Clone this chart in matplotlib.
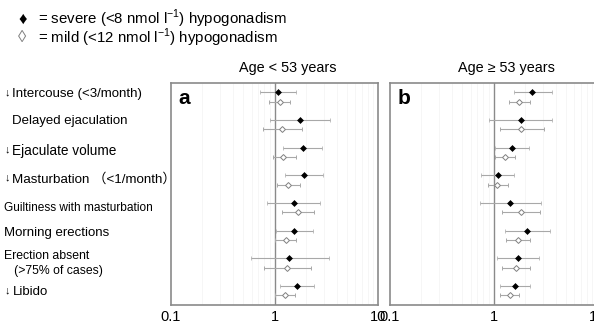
import numpy as np
import matplotlib
matplotlib.use('Agg')
import matplotlib.pyplot as plt

plt.rcParams['font.family'] = ['Liberation Sans', 'Noto Sans CJK JP', 'DejaVu Sans']
plt.rcParams['mathtext.fontset'] = 'custom'
plt.rcParams['mathtext.rm'] = 'Liberation Sans'

# Категорії (рядки); arrow = чи є стрілка "↓" перед назвою
labels = ['Intercouse (<3/month)', 'Delayed ejaculation', 'Ejaculate volume',
          'Masturbation \uff08<1/month\uff09', 'Guiltiness with masturbation',
          'Morning erections', 'Erection absent\n   (>75% of cases)', 'Libido']
arrow = [True, False, True, True, False, False, False, True]

# Вік < 53: тяжкий (<8 nmol/l) і легкий (<12 nmol/l)
a_sev = [1.07, 1.75, 1.87, 1.91, 1.53, 1.55, 1.39, 1.64]
a_sev_lo = [0.72, 0.90, 1.22, 1.25, 0.85, 1.03, 0.59, 1.12]
a_sev_hi = [1.62, 3.46, 2.87, 2.91, 2.77, 2.35, 3.36, 2.42]
a_mild = [1.12, 1.19, 1.22, 1.36, 1.67, 1.28, 1.33, 1.26]
a_mild_lo = [0.89, 0.77, 0.96, 1.06, 1.17, 1.02, 0.79, 1.01]
a_mild_hi = [1.40, 1.85, 1.61, 1.77, 2.42, 1.61, 2.25, 1.58]

# Вік >= 53
b_sev = [2.38, 1.83, 1.52, 1.10, 1.45, 2.10, 1.72, 1.60]
b_sev_lo = [1.58, 0.91, 1.04, 0.76, 0.74, 1.28, 1.09, 1.16]
b_sev_hi = [3.64, 3.67, 2.21, 1.58, 2.89, 3.48, 2.75, 2.26]
b_mild = [1.76, 1.84, 1.29, 1.09, 1.84, 1.72, 1.64, 1.43]
b_mild_lo = [1.42, 1.15, 1.03, 0.89, 1.22, 1.32, 1.22, 1.16]
b_mild_hi = [2.23, 3.07, 1.63, 1.37, 2.81, 2.23, 2.26, 1.75]

# Розміщення підписів (пікселі / зсув по рядку)
label_x = [12.5, 12.5, 12.5, 12.5, 4, 4, 4, 12.5]
label_dy = [-0.1, -0.12, -0.05, -0.03, 0.0, -0.07, 0.02, 0.04]
label_size = [9.5, 9.5, 9.8, 9.6, 8.6, 9.5, 8.8, 9.5]

W, H = 594, 325
fig = plt.figure(figsize=(W / 100, H / 100), dpi=100)

rows = np.arange(1, len(labels) + 1)
off = 0.17
frame_col = '#8a8a8a'
bar_col = '#a8a8a8'


def panel(left, letter, title, sev, sev_lo, sev_hi, mild, mild_lo, mild_hi):
    ax = fig.add_axes([left / W, 1 - 304.5 / H, 207 / W, 221.5 / H])
    ax.set_xscale('log')
    ax.set_xlim(0.1, 10)
    ax.set_ylim(8.5, 0.5)
    ax.grid(which='minor', axis='x', color='#f5f5f5', lw=0.6)
    ax.axvline(1, color='#8a8a8a', lw=1.0, zorder=1)
    sev = np.array(sev)
    mild = np.array(mild)
    ax.errorbar(sev, rows - off, xerr=[sev - np.array(sev_lo), np.array(sev_hi) - sev],
                fmt='D', ms=3.0, mfc='black', mec='black', mew=0.5, ecolor=bar_col,
                elinewidth=0.8, capsize=1.4, capthick=0.6, zorder=3)
    ax.errorbar(mild, rows + off, xerr=[mild - np.array(mild_lo), np.array(mild_hi) - mild],
                fmt='D', ms=3.0, mfc='white', mec='#808080', mew=0.7, ecolor=bar_col,
                elinewidth=0.8, capsize=1.4, capthick=0.6, zorder=3)
    ax.set_xticks([0.1, 1, 10])
    ax.set_xticklabels(['0.1', '1', '10'])
    ax.xaxis.set_minor_formatter(plt.NullFormatter())
    ax.tick_params(axis='x', which='both', length=0, labelsize=10.5, pad=4, colors='black')
    ax.set_yticks([])
    for s in ax.spines.values():
        s.set_color(frame_col)
        s.set_linewidth(1.2)
    ax.text(0.035, 0.975, letter, transform=ax.transAxes, fontsize=15,
            fontweight='bold', va='top', ha='left')
    ax.text(0.563, 1.068, title, transform=ax.transAxes, fontsize=10.4,
            ha='center', va='center')
    return ax


ax1 = panel(171, 'a', 'Age < 53 years', a_sev, a_sev_lo, a_sev_hi, a_mild, a_mild_lo, a_mild_hi)
ax2 = panel(390, 'b', 'Age \u2265 53 years', b_sev, b_sev_lo, b_sev_hi, b_mild, b_mild_lo, b_mild_hi)

# Підписи рядків
trans = matplotlib.transforms.blended_transform_factory(fig.transFigure, ax1.transData)
for i, lab in enumerate(labels):
    y = rows[i] + label_dy[i]
    ax1.text(label_x[i] / W, y, lab, transform=trans, fontsize=label_size[i],
             ha='left', va='center', linespacing=1.3, clip_on=False)
    if arrow[i]:
        ax1.text(5 / W, y - 0.04, '\u2193', transform=trans, fontsize=7.8,
                 ha='left', va='center', clip_on=False)

# Легенда
fig.text(18 / W, 1 - 19 / H, '\u2666', fontsize=12, va='center', ha='left')
fig.text(18 / W, 1 - 38 / H, '\u25ca', fontsize=12, va='center', ha='left', color='#808080')
fig.text(38 / W, 1 - 19 / H, r'= severe (<8 nmol l$^{-1}$) hypogonadism', fontsize=10.8, va='center')
fig.text(38 / W, 1 - 38 / H, r'= mild (<12 nmol l$^{-1}$) hypogonadism', fontsize=10.8, va='center')

fig.savefig('out.png', dpi=100)
